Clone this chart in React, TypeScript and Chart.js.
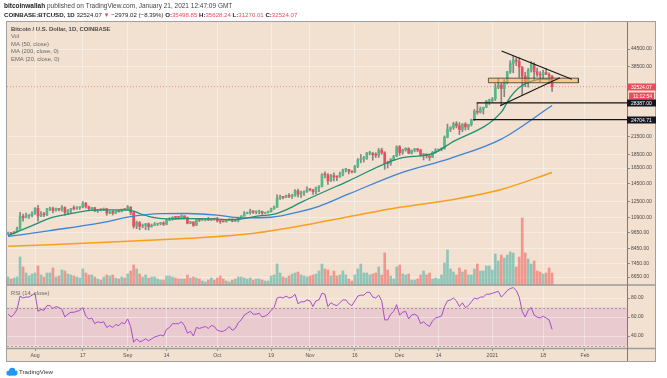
import { useEffect, useRef } from "react";
import { Chart, registerables } from "chart.js";

Chart.register(...registerables);

const W = 667;
const H = 378;
const FONT = "'Liberation Sans', Arial, Helvetica, sans-serif";
const BG = "rgb(242,224,208)";
const RSI_BAND = "rgba(175,70,205,0.14)";
const GRID = "rgba(255,255,255,0.38)";
const UP = "#53b987";
const DOWN = "#eb4d5c";
const WICK = "#858585";
const VOL_UP = "rgba(38,166,154,0.48)";
const VOL_DOWN = "rgba(239,83,80,0.52)";

// day index 0 = 2020-07-23 ... 182 = 2021-01-21
const opens = [9530,9610,9550,9700,9930,11030,10910,11100,11110,11350,
11800,11070,11230,11190,11740,11770,11600,11760,11680,11880,
11400,11580,11780,11770,11860,11910,12290,11960,11760,11870,
11530,11680,11650,11760,11340,11470,11330,11540,11480,11710,
11660,11930,11400,10170,10470,10160,10250,10370,10130,10230,
10340,10390,10440,10330,10680,10790,10950,10940,10930,11080,
10920,10420,10530,10240,10740,10690,10730,10770,10700,10840,
10780,10620,10570,10550,10670,10790,10600,10670,10920,11060,
11300,11380,11540,11430,11430,11500,11330,11370,11510,11750,
11920,12820,12980,12930,13120,13040,13070,13650,13280,13460,
13560,13800,13760,13550,14030,14150,15590,15580,14840,15480,
15330,15310,15700,16290,16320,16070,15960,16720,17660,17800,
17820,18680,18710,18430,18370,19160,18730,17150,17140,17720,
18180,19700,18770,19220,19450,18700,19160,19380,19180,18320,
18550,18260,18040,18810,19160,19280,19440,21350,22800,23140,
23860,23480,22740,23830,23240,23730,24710,26490,26280,27040,
27370,28880,28990,29400,32200,33000,31990,34000,36800,39400,
40600,40200,38300,35500,33950,37300,39150,36800,36050,35800,
36600,36000,35498.85];

const highs = [9680,9640,9730,10100,11400,11250,11340,11170,11450,11880,
12100,11480,11420,11790,11910,11920,11810,11800,12070,11950,
11670,11800,12040,11980,11960,12480,12400,12030,11890,11890,
11690,11720,11830,11770,11540,11580,11550,11580,11720,11760,
12080,11950,11460,10600,10560,10350,10400,10440,10350,10480,
10400,10480,10550,10780,10920,11000,11000,11040,11170,11080,
10980,10580,10540,10790,10770,10780,10790,10950,10860,10840,
10940,10650,10600,10690,10800,10800,10690,10960,11100,11490,
11430,11720,11560,11540,11620,11540,11400,11520,11820,12010,
13210,13180,13030,13170,13350,13250,13790,13850,13620,13660,
14100,13900,13820,14070,14250,15770,15980,15770,15650,15860,
15480,15960,16360,16480,16330,16140,16880,17860,18480,18190,
18810,18970,18740,18760,19420,19480,18910,17460,17870,18350,
19860,19920,19310,19560,19530,19180,19420,19420,19300,18640,
18570,18280,18950,19410,19350,19570,21560,23800,23290,24170,
24300,24110,23850,24100,23800,24790,26870,28420,27450,27410,
28990,29300,29680,33300,34800,33600,34500,36950,40380,41950,
41370,41400,38400,36650,37850,40100,39750,37950,36850,37300,
37850,36450,35628.24];

const lows = [9470,9460,9530,9660,9920,10600,10880,10850,10980,11220,
10600,11000,11000,11090,11570,11350,11530,11550,11520,11140,
11180,11280,11650,11700,11690,11840,11830,11590,11670,11500,
11390,11540,11590,11130,11280,11160,11290,11420,11450,11570,
11650,11180,10000,9960,9870,10030,9880,9850,10080,10220,
10220,10280,10220,10280,10640,10680,10740,10800,10890,10820,
10360,10390,10140,10210,10560,10650,10620,10650,10640,10680,
10520,10400,10520,10520,10640,10540,10560,10530,10820,11050,
11270,11240,11300,11270,11270,11220,11310,11350,11420,11680,
11890,12700,12760,12880,12900,12800,13060,12970,12930,13140,
13460,13640,13250,13300,13540,14100,15200,14400,14720,14830,
14850,15280,15450,15980,15710,15850,15880,16560,17240,17350,
17750,18420,17620,18010,18030,18500,16330,16500,16880,17550,
18180,18330,18500,19000,18570,18520,18880,18900,18220,17660,
17930,17580,18020,18720,19000,19050,19290,21230,22350,22780,
23060,21820,22350,22650,22720,23430,24500,25850,26100,25880,
27320,28010,28660,28950,31980,27730,29900,33300,36300,36500,
38750,35110,30420,32500,32400,36700,34400,35400,33900,34800,
35900,33400,31270.01];

const closes = [9610,9550,9700,9930,11030,10910,11100,11110,11350,11800,
11070,11230,11190,11740,11770,11600,11760,11680,11880,11400,
11580,11780,11770,11860,11910,12290,11960,11760,11870,11530,
11680,11650,11760,11340,11470,11330,11540,11480,11710,11660,
11930,11400,10170,10470,10160,10250,10370,10130,10230,10340,
10390,10440,10330,10680,10790,10950,10940,10930,11080,10920,
10420,10530,10240,10740,10690,10730,10770,10700,10840,10780,
10620,10570,10550,10670,10790,10600,10670,10920,11060,11300,
11380,11540,11430,11430,11500,11330,11370,11510,11750,11920,
12820,12980,12930,13120,13040,13070,13650,13280,13460,13560,
13800,13760,13550,14030,14150,15590,15580,14840,15480,15330,
15310,15700,16290,16320,16070,15960,16720,17660,17800,17820,
18680,18710,18430,18370,19160,18730,17150,17140,17720,18180,
19700,18770,19220,19450,18700,19160,19380,19180,18320,18550,
18260,18040,18810,19160,19280,19440,21350,22800,23140,23860,
23480,22740,23830,23240,23730,24710,26490,26280,27040,27370,
28880,28990,29400,32200,33000,31990,34000,36800,39400,40600,
40200,38300,35500,33950,37300,39150,36800,36050,35800,36600,
36000,35498.85,32524.07];

const volumes = [8,6,7,8,28,18,12,9,11,12,
19,10,8,12,12,17,8,9,15,14,
11,10,9,8,7,16,12,10,10,8,
6,5,8,10,9,10,7,6,8,7,
11,14,20,16,11,8,10,7,8,8,
6,5,5,9,9,8,7,6,6,6,
10,7,8,7,6,4,3,5,7,5,
7,9,6,4,3,5,6,8,8,7,
6,7,5,6,6,5,4,4,9,10,
21,12,8,7,9,11,12,13,10,9,
8,9,10,11,14,21,16,15,9,14,
9,10,14,10,6,4,10,16,21,12,
12,10,11,12,18,10,32,15,9,6,
18,20,11,10,11,5,5,6,10,14,
10,12,6,7,6,10,22,35,16,13,
10,17,13,15,10,10,16,21,14,14,
19,19,15,31,24,30,27,30,33,32,
18,28,67,32,26,21,24,14,13,11,
12,17,12];

const rsi14 = [63,60,63,68,82,80,81,81,83,85,
66,68,67,72,72,69,71,70,68,60,
63,65,65,66,67,70,61,58,59,53,
55,54,55,49,51,49,52,51,54,53,
58,50,33.5,37,34,35,37,35,37,39,
40,41,40,47,49,53,53,53,55,51,
43,45,40,49,48,49,50,48,51,50,
46,45,45,47,50,46,48,54,57,62,
64,66,63,63,64,60,61,63,67,70,
80,81,80,82,80,81,84,74,76,76,
78,77,71,77,78,85,84,71,75,73,
72,75,78,78,74,72,77,82,83,83,
86,86,81,80,83,77,57,57,63,66,
73,62,65,66,58,62,63,61,53,55,
52,50,56,59,60,61,71,77,78,80,
77,71,75,70,72,76,80,79,81,81,
84,84,85,86,87,81,84,88,90,91,
88,81,66,60,67,70,62,60,59,61,
59,57,47];

const ema20Days = [0,6,10,14,20,26,31,38,42,44,48,53,60,64,69,75,78,84,89,93,98,114,131,142,148,165,168,171,175,179,182];
const ema20Vals = [9400,10000,10430,10870,11230,11550,11650,11650,11530,11300,10960,10800,10830,10830,10800,10730,10800,11070,11230,11650,12400,14840,17900,18600,20300,26300,29800,32300,34000,34600,34500];
const ma50Days = [0,14,31,41,51,60,70,78,88,98,104,114,131,148,165,182];
const ma50Vals = [9330,9800,10450,11000,11280,11300,11150,10900,10950,11500,12000,13300,15800,17900,21000,27800];
const ma200Days = [0,14,31,47,64,81,98,114,131,148,165,182];
const ma200Vals = [8600,8700,8880,9050,9240,9550,10200,11000,11900,12650,13800,15900];

const priceTicks = [44500,38500,21500,18500,16500,14500,12500,10900,9650,8450,7450,6650];
const rsiTicks = [80,60,40];
const timeTickDays = [9,25,40,53,70,88,101,116,131,144,162,179,193];
const timeTickLabels = ["Aug","17","Sep","14","Oct","19","Nov","16","Dec","14","2021","18","Feb"];

const xRange = [-0.37, 207.06];
const priceRange = [6227, 55730];
const rsiRange = [27.4, 93.7];
const volRange = [-63, 263];

const descLineDays = [165.1, 188.6];
const descLineVals = [43760, 34570];
const ascLineDays = [164.6, 184.6];
const ascLineVals = [27750, 35030];
const boxDays = [160.7, 190.8];
const boxVals = [34900, 33600];
const levelStartDays = [156.8, 155.6];
const levelVals = [28387, 24704.71];
const lastPrice = 32524.07;
const tagVals = [32524.07, 28387, 24704.71];
const tagTexts = ["32524.07", "28387.00", "24704.71"];
const tagColors = [DOWN, "#131722", "#131722"];
const countdownText = "11:12:54";
const legendLines = ["Bitcoin / U.S. Dollar, 1D, COINBASE", "Vol", "MA (50, close)", "MA (200, close, 0)", "EMA (20, close, 0)"];

type Run = [string, string, string, number];

function drawRuns(ctx: CanvasRenderingContext2D, x: number, y: number, runs: Run[]) {
  let cx = x;
  for (const [text, color, weight, size] of runs) {
    ctx.font = `${weight} ${size}px ${FONT}`;
    ctx.fillStyle = color;
    ctx.fillText(text, cx, y);
    cx += ctx.measureText(text).width;
  }
}

const decor = {
  id: "decor",
  beforeDraw(chart: any) {
    const { ctx, chartArea: a, scales } = chart;
    ctx.save();
    ctx.fillStyle = "#ffffff";
    ctx.fillRect(0, 0, W, H);
    ctx.fillStyle = BG;
    ctx.fillRect(a.left - 1, a.top - 1, a.right - a.left + 30, a.bottom - a.top + 15);
    const r = scales.yRsi;
    const y70 = r.getPixelForValue(70);
    const y30 = r.getPixelForValue(30);
    ctx.fillStyle = RSI_BAND;
    ctx.fillRect(a.left, y70, a.right - a.left, y30 - y70);
    ctx.restore();
  },
  beforeDatasetsDraw(chart: any) {
    const { ctx, chartArea: a, scales } = chart;
    const r = scales.yRsi;
    ctx.save();
    ctx.strokeStyle = "rgba(120,120,120,0.6)";
    ctx.lineWidth = 1;
    ctx.setLineDash([2, 2]);
    for (const v of [70, 30]) {
      const y = Math.round(r.getPixelForValue(v)) + 0.5;
      ctx.beginPath();
      ctx.moveTo(a.left, y);
      ctx.lineTo(a.right, y);
      ctx.stroke();
    }
    ctx.restore();
  },
  afterDraw(chart: any) {
    const { ctx, chartArea: a, scales } = chart;
    const L = a.left - 1, T = a.top - 1, R = a.right + 29, B = a.bottom + 14;
    ctx.save();
    ctx.strokeStyle = "#9c9c9c";
    ctx.lineWidth = 1.5;
    const sep = scales.y.bottom;
    ctx.beginPath(); ctx.moveTo(L, sep); ctx.lineTo(R, sep); ctx.stroke();
    ctx.beginPath(); ctx.moveTo(L, a.bottom + 0.5); ctx.lineTo(R, a.bottom + 0.5); ctx.stroke();
    ctx.lineWidth = 1;
    ctx.strokeStyle = "#7a7a7a";
    ctx.beginPath(); ctx.moveTo(a.right + 0.5, T); ctx.lineTo(a.right + 0.5, B); ctx.stroke();
    ctx.strokeStyle = "#a0a0a0";
    ctx.strokeRect(L + 0.5, T + 0.5, R - L - 1, B - T - 1);

    ctx.textBaseline = "middle";
    ctx.textAlign = "left";
    legendLines.forEach((t, k) => {
      ctx.font = `${k === 0 ? "bold " : ""}5.9px ${FONT}`;
      ctx.fillStyle = k === 0 ? "#4a4a4a" : "#6a6a6a";
      ctx.fillText(t, a.left + 4, a.top + 7 + k * 7.5);
    });
    ctx.font = `5.8px ${FONT}`;
    ctx.fillStyle = "#6a6a6a";
    ctx.fillText("RSI (14, close)", a.left + 4, sep + 8);

    const y = scales.y;
    ctx.font = `5px ${FONT}`;
    tagVals.forEach((v, k) => {
      const py = Math.round(y.getPixelForValue(v));
      ctx.fillStyle = tagColors[k];
      ctx.fillRect(a.right, py - 3.5, 29, 7);
      ctx.fillStyle = "#ffffff";
      ctx.fillText(tagTexts[k], a.right + 4, py + 0.3);
      if (k === 0) {
        ctx.fillStyle = tagColors[k];
        ctx.fillRect(a.right + 2, py + 5.5, 25, 7);
        ctx.fillStyle = "#ffffff";
        ctx.fillText(countdownText, a.right + 6, py + 9.3);
      }
    });

    ctx.textBaseline = "middle";
    drawRuns(ctx, 4, 6, [
      ["bitcoinwallah", "#222", "bold", 6.5],
      [" published on TradingView.com, January 21, 2021 12:47:09 GMT", "#444", "normal", 6.5],
    ]);
    drawRuns(ctx, 4, 15, [
      ["COINBASE:BTCUSD, 1D", "#222", "bold", 6.1],
      [" 32524.07 ", "#222", "normal", 6.1],
      ["\u25BC", DOWN, "normal", 6.1],
      [" \u22122979.02 (\u22128.39%) ", "#222", "normal", 6.1],
      ["O:", "#222", "bold", 6.1],
      ["35498.85", DOWN, "normal", 6.1],
      [" H:", "#222", "bold", 6.1],
      ["35628.24", DOWN, "normal", 6.1],
      [" L:", "#222", "bold", 6.1],
      ["31270.01", DOWN, "normal", 6.1],
      [" C:", "#222", "bold", 6.1],
      ["32524.07", DOWN, "normal", 6.1],
    ]);

    ctx.fillStyle = "#2196f3";
    ctx.beginPath();
    ctx.arc(9, 373, 2.6, 0, Math.PI * 2);
    ctx.arc(12.2, 371, 3.2, 0, Math.PI * 2);
    ctx.arc(15.2, 373, 2.4, 0, Math.PI * 2);
    ctx.fill();
    ctx.fillRect(9, 373, 6.4, 2.6);
    ctx.font = `6.2px ${FONT}`;
    ctx.fillStyle = "#333";
    ctx.fillText("TradingView", 19, 372.5);
    ctx.restore();
  },
};

export default function App() {
  const ref = useRef<HTMLCanvasElement>(null);
  useEffect(() => {
    const canvas = ref.current;
    if (!canvas) return;
    const days = closes.map((_, i) => i);
    const isUp = days.map((i) => closes[i] >= opens[i]);
    const pts = (ds: number[], vs: number[]) => ds.map((d, k) => ({ x: d, y: vs[k] }));
    const lineDs = (label: string, data: any[], color: string, width: number, order: number, extra: any = {}) => ({
      type: "line", label, data, yAxisID: "y", borderColor: color, borderWidth: width,
      pointRadius: 0, fill: false, order, ...extra,
    });
    const tickFont = { size: 5, family: FONT };

    const datasets: any[] = [
      { type: "bar", label: "Vol", data: days.map((i) => ({ x: i, y: volumes[i] })), yAxisID: "yVol",
        backgroundColor: days.map((i) => (isUp[i] ? VOL_UP : VOL_DOWN)), barThickness: 2, grouped: false, order: 9 },
      { type: "bar", label: "Wicks", data: days.map((i) => ({ x: i, y: [lows[i], highs[i]] })), yAxisID: "y",
        backgroundColor: WICK, barThickness: 1, grouped: false, order: 8 },
      { type: "bar", label: "Bodies",
        data: days.map((i) => ({ x: i, y: [Math.min(opens[i], closes[i]), Math.max(opens[i], closes[i])] })),
        yAxisID: "y", backgroundColor: days.map((i) => (isUp[i] ? UP : DOWN)), barThickness: 2, minBarLength: 1,
        grouped: false, order: 7 },
      lineDs("MA 200", pts(ma200Days, ma200Vals), "#f7a01c", 1.5, 6, { cubicInterpolationMode: "monotone" }),
      lineDs("MA 50", pts(ma50Days, ma50Vals), "#3b84d8", 1.3, 5, { cubicInterpolationMode: "monotone" }),
      lineDs("EMA 20", pts(ema20Days, ema20Vals), "#209074", 1.3, 4, { cubicInterpolationMode: "monotone" }),
      { type: "line", label: "RSI", data: days.map((i) => ({ x: i, y: rsi14[i] })), yAxisID: "yRsi",
        borderColor: "#a84ccc", borderWidth: 1, pointRadius: 0, fill: false, order: 4 },
      lineDs("Last", pts(xRange, [lastPrice, lastPrice]), "rgba(235,77,92,0.55)", 1, 10, { borderDash: [1, 2] }),
      lineDs("BoxTop", pts(boxDays, [boxVals[0], boxVals[0]]), "rgba(0,0,0,0)", 0, 3),
      lineDs("BoxBottom", pts(boxDays, [boxVals[1], boxVals[1]]), "rgba(0,0,0,0)", 0, 3,
        { fill: "-1", backgroundColor: "rgba(255,172,72,0.5)" }),
      lineDs("BoxOutline",
        pts([boxDays[0], boxDays[1], boxDays[1], boxDays[0], boxDays[0]], [boxVals[0], boxVals[0], boxVals[1], boxVals[1], boxVals[0]]),
        "#3a3a3a", 0.8, 2),
      lineDs("Desc", pts(descLineDays, descLineVals), "#151515", 1.1, 1),
      lineDs("Asc", pts(ascLineDays, ascLineVals), "#151515", 1.1, 1),
      lineDs("Level1", pts([levelStartDays[0], xRange[1]], [levelVals[0], levelVals[0]]), "#151515", 1.2, 1),
      lineDs("Level2", pts([levelStartDays[1], xRange[1]], [levelVals[1], levelVals[1]]), "#151515", 1.2, 1),
    ];

    const chart = new Chart(canvas, {
      type: "bar",
      data: { datasets },
      plugins: [decor],
      options: {
        responsive: false,
        animation: false,
        devicePixelRatio: 1,
        events: [],
        layout: { padding: { left: 7, top: 22, right: 11, bottom: 17 } },
        plugins: { legend: { display: false }, tooltip: { enabled: false } },
        scales: {
          x: {
            type: "linear", min: xRange[0], max: xRange[1], offset: false, bounds: "data",
            afterBuildTicks: (s: any) => { s.ticks = timeTickDays.map((v) => ({ value: v })); },
            afterFit: (s: any) => { s.height = 13; },
            ticks: {
              callback: (v: any) => { const k = timeTickDays.indexOf(Number(v)); return k >= 0 ? timeTickLabels[k] : ""; },
              font: { size: 5.2, family: FONT }, color: "#555", padding: 1, maxRotation: 0, autoSkip: false,
            },
            grid: { color: GRID, tickColor: "#9a9a9a", tickLength: 3, offset: false },
            border: { display: false },
          },
          y: {
            type: "logarithmic", position: "right", stack: "panes", stackWeight: 263, weight: 0,
            min: priceRange[0], max: priceRange[1], bounds: "data",
            afterBuildTicks: (s: any) => { s.ticks = priceTicks.map((v) => ({ value: v })); },
            afterFit: (s: any) => { s.width = 29; },
            ticks: { callback: (v: any) => Number(v).toFixed(2), font: tickFont, color: "#4a4a4a", padding: 1, autoSkip: false },
            grid: { color: GRID, tickColor: "#8a8a8a", tickLength: 3 },
            border: { display: false },
          },
          yVol: { type: "linear", display: false, position: "right", min: volRange[0], max: volRange[1], bounds: "data" },
          yRsi: {
            type: "linear", position: "right", stack: "panes", stackWeight: 63, weight: 1,
            min: rsiRange[0], max: rsiRange[1], bounds: "data",
            afterBuildTicks: (s: any) => { s.ticks = rsiTicks.map((v) => ({ value: v })); },
            afterFit: (s: any) => { s.width = 29; },
            ticks: { callback: (v: any) => Number(v).toFixed(2), font: tickFont, color: "#4a4a4a", padding: 1, autoSkip: false },
            grid: { color: GRID, tickColor: "#8a8a8a", tickLength: 3 },
            border: { display: false },
          },
        },
      } as any,
    } as any);
    return () => chart.destroy();
  }, []);

  return (
    <div style={{ position: "absolute", left: 0, top: 0, width: W, height: H, background: "#fff" }}>
      <canvas ref={ref} width={W} height={H} style={{ display: "block", width: W, height: H }} />
    </div>
  );
}
